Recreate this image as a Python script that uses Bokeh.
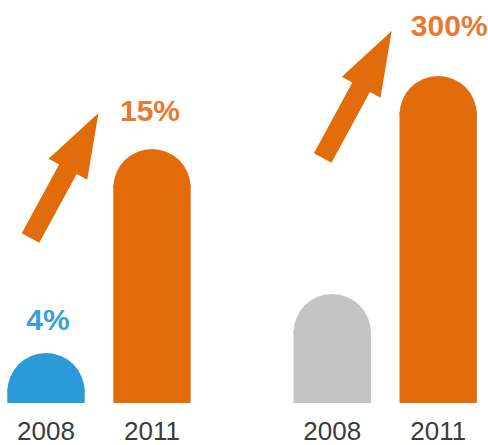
import numpy as np
from bokeh.plotting import figure
from bokeh.models import ColumnDataSource, Range1d
from bokeh.embed import file_html
from bokeh.resources import INLINE
from bokeh.core.properties import value

# ---------------- data ----------------
groups = ["A", "B"]
years = ["2008", "2011"]
heights_a = [50, 254]
heights_b = [109, 327]
labels_a = ["4%", "15%"]
labels_b = ["", "300%"]

# ---------------- styles ----------------
bar_colors_a = ["#2A9AD8", "#E36C0A"]
bar_colors_b = ["#C4C4C4", "#E36C0A"]
lab_colors_a = ["#3AA0DA", "#E8792F"]
lab_colors_b = ["#E8792F", "#E8792F"]
lab_dx_a = [2, -2]
lab_dy_a = [-34, -39]
lab_dx_b = [0, 11]
lab_dy_b = [0, -51]
ARROW_COLOR = "#E36C0A"
# arrow tail / tip offsets (px) from the 2011 bar centre/top, per group
arrow_tail = [(-121.5, -89), (-115.5, -82)]
arrow_tip = [(-53.5, 36), (-46.5, 45)]
SW, HL, HW = 20, 64, 44  # shaft width, head length, head width (px)

W, H = 488, 445
GAP = 0.70
BW = 0.73
PPX = 106.0            # pixels per x unit
X_START = -45.5 / PPX
X_END = X_START + W / PPX
Y_START = -42.5
Y_END = 402.5
PPY = H / (Y_END - Y_START)

n = len(years)
xs, tops, cols, texts, tcols, tdx, tdy, yrs = [], [], [], [], [], [], [], []
all_h = [heights_a, heights_b]
all_l = [labels_a, labels_b]
all_c = [bar_colors_a, bar_colors_b]
all_tc = [lab_colors_a, lab_colors_b]
all_dx = [lab_dx_a, lab_dx_b]
all_dy = [lab_dy_a, lab_dy_b]
for gi, g in enumerate(groups):
    for yi, yr in enumerate(years):
        xs.append(gi * (n + GAP) + yi)
        tops.append(all_h[gi][yi])
        cols.append(all_c[gi][yi])
        texts.append(all_l[gi][yi])
        tcols.append(all_tc[gi][yi])
        tdx.append(all_dx[gi][yi])
        tdy.append(all_dy[gi][yi])
        yrs.append(yr)

xs = np.array(xs, dtype=float)
tops = np.array(tops, dtype=float)
r_x = BW / 2
r_y = r_x * PPX / PPY
src = ColumnDataSource(dict(x=xs, top=tops, rect_top=tops - r_y + 3.0 / PPY,
                            cy=tops - r_y, color=cols, text=texts,
                            tcolor=tcols, dx=tdx, dy=tdy, year=yrs,
                            zero=np.zeros(len(xs))))

p = figure(width=W, height=H, output_backend="svg", toolbar_location=None,
           x_axis_location=None, y_axis_location=None, min_border=0,
           x_range=Range1d(X_START, X_END), y_range=Range1d(Y_START, Y_END),
           outline_line_color=None, background_fill_color="white",
           border_fill_color="white")
p.grid.grid_line_color = None

p.vbar(x="x", width=BW, bottom=0, top="rect_top", color="color", source=src, line_color=None)
p.wedge(x="x", y="cy", radius=r_x, start_angle=0, end_angle=np.pi,
        color="color", line_color=None, source=src)

p.text(x="x", y="top", text="text", text_color="tcolor", x_offset="dx", y_offset="dy",
       text_font=value("Liberation Sans"), text_font_style="bold", text_font_size="30px",
       text_align="center", text_baseline="middle", source=src)

p.text(x="x", y="zero", text="year", y_offset=27.5, text_color="#3C3C3C",
       text_font=value("Liberation Sans"), text_font_size="26px",
       text_align="center", text_baseline="middle", source=src)

# arrows
axs, ays = [], []
for gi in range(len(groups)):
    k = gi * n + (n - 1)
    xc, v = xs[k] * PPX, tops[k] * PPY
    t = np.array([xc + arrow_tail[gi][0], v + arrow_tail[gi][1]])
    e = np.array([xc + arrow_tip[gi][0], v + arrow_tip[gi][1]])
    d = e - t
    L = np.hypot(*d)
    u = d / L
    nn = np.array([-u[1], u[0]])
    b = e - u * HL
    pts = [t + nn * SW / 2, b + nn * SW / 2, b + nn * HW / 2, e,
           b - nn * HW / 2, b - nn * SW / 2, t - nn * SW / 2]
    axs.append([pt[0] / PPX for pt in pts])
    ays.append([pt[1] / PPY for pt in pts])
p.patches(xs=axs, ys=ays, fill_color=ARROW_COLOR, line_color=None)

open("out.html", "w").write(file_html(p, INLINE))
